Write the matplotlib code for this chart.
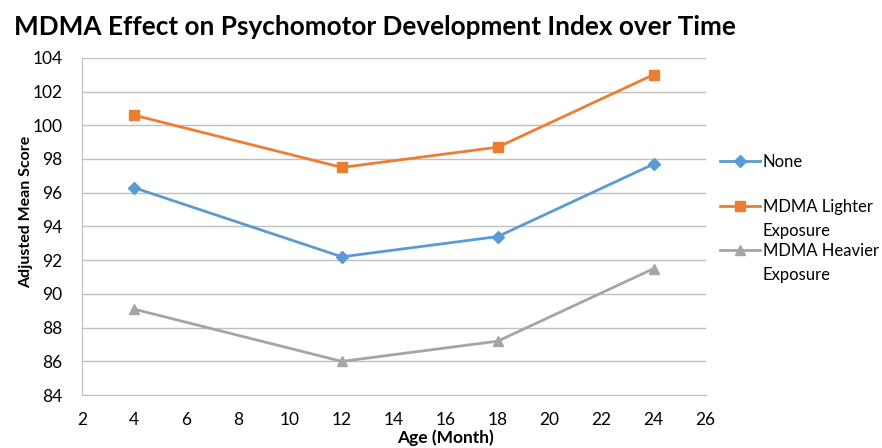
import matplotlib.pyplot as plt

plt.rcParams['font.family'] = ['Lato', 'DejaVu Sans']

# data
ages = [4, 12, 18, 24]
none_scores = [96.3, 92.2, 93.4, 97.7]
lighter_scores = [100.6, 97.5, 98.7, 103.0]
heavier_scores = [89.1, 86.0, 87.2, 91.5]
series_names = ['None', 'MDMA Lighter', 'MDMA Heavier']
name_second_lines = ['', 'Exposure', 'Exposure']

fig = plt.figure(figsize=(8.82, 4.48), dpi=100)
ax = fig.add_axes([0.093, 0.118, 0.707, 0.753])

ax.plot(ages, none_scores, color='#5B9BD5', marker='D', markersize=6, lw=2, label=series_names[0])
ax.plot(ages, lighter_scores, color='#ED7D31', marker='s', markersize=7, lw=2, label=series_names[1])
ax.plot(ages, heavier_scores, color='#A5A5A5', marker='^', markersize=7.5, lw=2, label=series_names[2])

ax.set_xlim(2, 26)
ax.set_ylim(84, 104)
ax.set_xticks(range(2, 27, 2))
ax.set_yticks(range(84, 105, 2))
ax.grid(axis='y', color='#BFBFBF', lw=1)
ax.set_axisbelow(True)
for s in ['top', 'right']:
    ax.spines[s].set_visible(False)
for s in ['left', 'bottom']:
    ax.spines[s].set_color('#BFBFBF')
ax.tick_params(length=0, labelsize=12.5)
ax.tick_params(axis='x', pad=12)
ax.tick_params(axis='y', pad=14)

ax.set_xlabel('Age (Month)', fontsize=12.5, fontweight='bold')
ax.xaxis.set_label_coords(0.583, -0.125)
ax.xaxis.label.set_va('center')
ax.set_ylabel('Adjusted Mean Score', fontsize=11.5, fontweight='bold')
ax.yaxis.set_label_coords(-0.09, 0.543)
ax.yaxis.label.set_va('center')
fig.text(0.016, 0.94, 'MDMA Effect on Psychomotor Development Index over Time',
         fontsize=18.8, fontweight='bold', ha='left', va='center')

leg = ax.legend(loc='upper left', bbox_to_anchor=(1.01, 0.74), frameon=False,
                fontsize=12, handlelength=2.4, handletextpad=0.15,
                labelspacing=1.72, borderpad=0)
# wrapped second line of the long legend names
for t, extra in zip(leg.get_texts(), name_second_lines):
    if extra:
        ax.annotate(extra, xy=(0, 0), xycoords=t, xytext=(0, -8),
                    textcoords='offset pixels', fontsize=12, ha='left', va='top',
                    zorder=10)

fig.savefig('out.png', dpi=100)
